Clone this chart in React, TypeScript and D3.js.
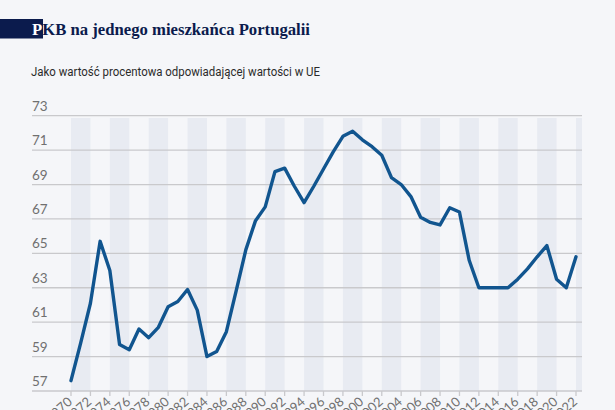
import React from "react";
import * as d3 from "d3";

const years: number[] = d3.range(1970, 2023);
const values: number[] = [
  57.6, 59.8, 62.1, 65.7, 64.0, 59.7, 59.4, 60.6, 60.1, 60.7,
  61.9, 62.2, 62.9, 61.7, 59.0, 59.3, 60.45, 62.8, 65.2, 66.9,
  67.7, 69.75, 69.95, 68.9, 67.95, 68.9, 69.9, 70.9, 71.8, 72.1,
  71.6, 71.2, 70.7, 69.4, 69.0, 68.3, 67.1, 66.8, 66.65, 67.65,
  67.4, 64.6, 63.0, 63.0, 63.0, 63.0, 63.5, 64.1, 64.8, 65.45,
  63.5, 63.0, 64.8,
];
const yTicks: number[] = [57, 59, 61, 63, 65, 67, 69, 71, 73];
const xTicks: number[] = d3.range(1970, 2023, 2);
const stripeStarts: number[] = d3.range(1970, 2023, 4);

const title = "PKB na jednego mieszkańca Portugalii";
const subtitle = "Jako wartość procentowa odpowiadającej wartości w UE";

export default function App() {
  const W = 615, H = 410;
  const x = d3.scaleLinear().domain([1970, 2022]).range([71, 576]);
  const y = d3.scaleLinear().domain([57, 73]).range([391, 115.7]);
  const xEnd = 582;
  const gridLeft = 32;
  const line = d3
    .line<number>()
    .x((_, i) => x(years[i]))
    .y((d) => y(d));

  return (
    <div style={{ position: "fixed", left: 0, top: 0, width: W, height: H }}>
      <svg width={W} height={H} style={{ display: "block" }}>
        <rect x={0} y={0} width={W} height={H} fill="#f5f6f9" />
        {/* title */}
        <rect x={0} y={19} width={43} height={19.5} fill="#0b1b4d" />
        <text
          x={32}
          y={35}
          fontFamily="'Liberation Serif', 'DejaVu Serif', serif"
          fontWeight="bold"
          fontSize={17.5}
          fill="#0b1b4d"
          textLength={278}
          lengthAdjust="spacingAndGlyphs"
        >
          <tspan fill="#ffffff">P</tspan>
          {title.slice(1)}
        </text>
        <text
          x={31}
          y={76}
          fontFamily="Roboto, 'Noto Sans', sans-serif"
          fontSize={12}
          fill="#2b2b2b"
          textLength={289}
          lengthAdjust="spacingAndGlyphs"
        >
          {subtitle}
        </text>
        {/* stripes */}
        {stripeStarts.map((s) => {
          const x0 = x(s);
          const x1 = Math.min(x(s + 2), xEnd);
          return (
            <rect
              key={s}
              x={x0}
              y={118}
              width={x1 - x0}
              height={y(57) - 118}
              fill="#e8ebf2"
            />
          );
        })}
        {/* gridlines */}
        {yTicks.map((t) => (
          <g key={t}>
            <line
              x1={gridLeft}
              x2={xEnd}
              y1={y(t)}
              y2={y(t)}
              stroke="#c9c9cc"
              strokeWidth={1.3}
            />
            <text
              x={gridLeft}
              y={y(t) - 5}
              fontFamily="Lato, Roboto, sans-serif"
              fontSize={13.5}
              fill="#707070"
            >
              {t}
            </text>
          </g>
        ))}
        {/* x ticks */}
        {xTicks.map((t) => (
          <g key={t} transform={`translate(${x(t)},${y(57)})`}>
            <line y1={0} y2={5} stroke="#c9c9cc" strokeWidth={1.3} />
            <text
              transform="translate(2,12) rotate(-42)"
              textAnchor="end"
              fontFamily="Lato, Roboto, sans-serif"
              fontSize={13}
              fill="#707070"
            >
              {t}
            </text>
          </g>
        ))}
        <path
          d={line(values) || ""}
          fill="none"
          stroke="#11558f"
          strokeWidth={3.4}
          strokeLinejoin="round"
          strokeLinecap="round"
        />
      </svg>
    </div>
  );
}
